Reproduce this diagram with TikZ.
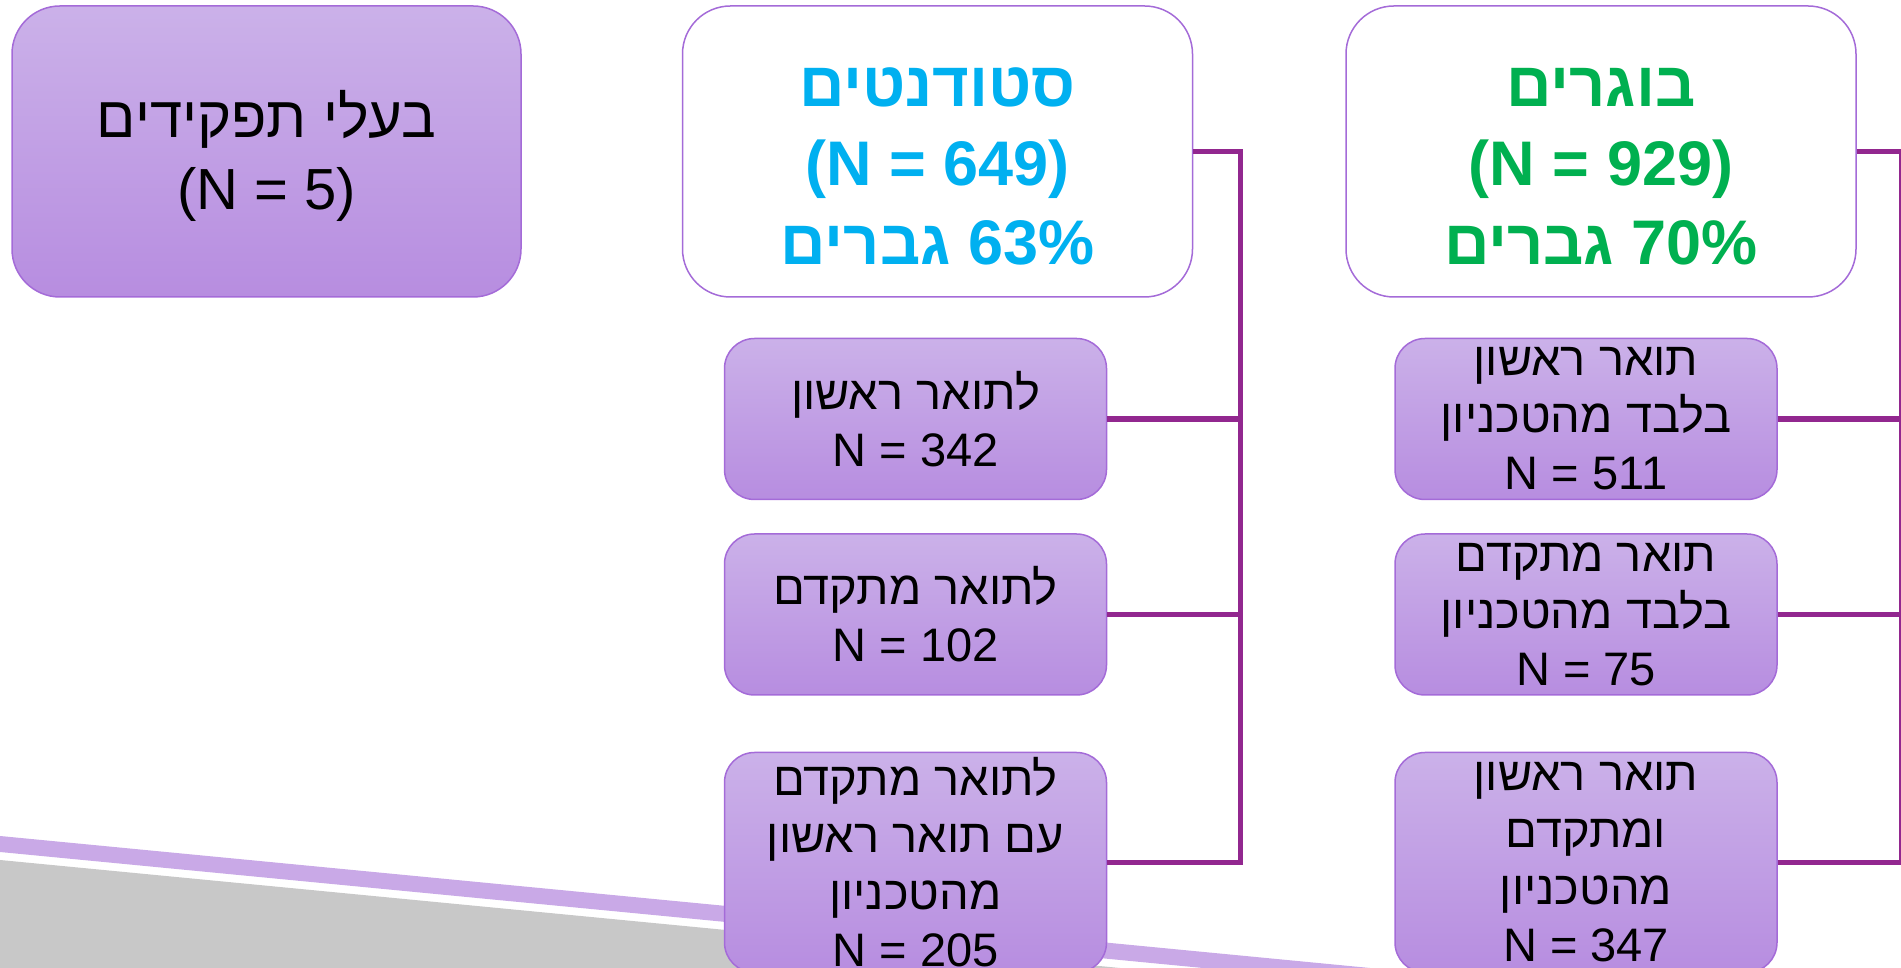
\documentclass[tikz,border=0pt]{standalone}
\usepackage{fontspec}
\setmainfont{Liberation Sans}
\newfontfamily\hebfont[Script=Hebrew]{Liberation Sans}
\TeXXeTstate=1
\usetikzlibrary{positioning}

\definecolor{boxtop}{HTML}{CBB1E9}
\definecolor{boxbot}{HTML}{B78DE0}
\definecolor{boxline}{HTML}{A46BD8}
\definecolor{linkcol}{HTML}{92278F}
\definecolor{stripecol}{HTML}{C9A9E7}
\definecolor{graycol}{HTML}{C8C8C8}
\definecolor{stucol}{HTML}{00B0F0}
\definecolor{gradcol}{HTML}{00B050}

\newcommand{\heb}[1]{{\hebfont\beginR #1\endR}}

\begin{document}
\begin{tikzpicture}[
    x = 1pt,
    y = 1pt,
    node distance = 40pt,
    ]

    \tikzstyle{purplebox}=[
    draw = boxline,
    line width = 1.5pt,
    top color = boxtop,
    bottom color = boxbot,
    align = center,
    inner sep = 0pt,
    ]

    \tikzstyle{headbox}=[
    draw = boxline,
    line width = 1.5pt,
    fill = white,
    align = center,
    inner sep = 0pt,
    rounded corners = 48pt,
    minimum width = 510pt,
    minimum height = 291pt,
    font = \fontsize{63}{79}\selectfont\bfseries,
    ]

    \tikzstyle{subbox}=[
    purplebox,
    rounded corners = 30pt,
    minimum width = 382pt,
    minimum height = 161pt,
    font = \fontsize{47}{57}\selectfont,
    ]

    \tikzstyle{conn}=[
    draw = linkcol,
    line width = 5.5pt,
    ]

    \useasboundingbox (0,0) rectangle (1901,968);

    % background of the slide
    \fill[graycol] (0,108) -- (1120,0) -- (0,0) -- cycle;
    \fill[stripecol] (0,132) -- (1370,0) -- (1203,0) -- (0,116) -- cycle;

    \node[purplebox, rounded corners=48pt, minimum width=509pt, minimum height=291pt,
      font=\fontsize{58}{72}\selectfont] (roles) at (266.5,816.5)
      {\rule{0pt}{57pt}\heb{בעלי תפקידים}\\(N = 5)};
    \node[headbox, text=stucol] (students) [right=160pt of roles]
      {\rule{0pt}{69pt}\heb{סטודנטים}\\(N = 649)\\\heb{63\% גברים}};
    \node[headbox, text=gradcol] (grads) [right=152pt of students]
      {\rule{0pt}{69pt}\heb{בוגרים}\\(N = 929)\\\heb{70\% גברים}};

    \node[subbox] (stu1) [below=40pt of students, xshift=-22pt]
      {\heb{לתואר ראשון}\\N = 342};
    \node[subbox] (stu2) [below=33pt of stu1]
      {\heb{לתואר מתקדם}\\N = 102};
    \node[subbox, minimum height=220pt] (stu3) [below=56pt of stu2]
      {\heb{לתואר מתקדם}\\\heb{עם תואר ראשון}\\\heb{מהטכניון}\\N = 205};

    \node[subbox] (grad1) [below=40pt of grads, xshift=-15pt]
      {\heb{תואר ראשון}\\\heb{בלבד מהטכניון}\\N = 511};
    \node[subbox] (grad2) [below=33pt of grad1]
      {\heb{תואר מתקדם}\\\heb{בלבד מהטכניון}\\N = 75};
    \node[subbox, minimum height=220pt] (grad3) [below=56pt of grad2]
      {\heb{תואר ראשון}\\\heb{ומתקדם}\\\heb{מהטכניון}\\N = 347};

    \coordinate[right=47pt of students.east] (stutrunk);
    \coordinate[right=45pt of grads.east] (gradtrunk);

    \draw[conn] (students.east) -| (stutrunk |- stu3.east) -- (stu3.east);
    \draw[conn] (stu1.east) -- (stu1.east -| stutrunk);
    \draw[conn] (stu2.east) -- (stu2.east -| stutrunk);

    \draw[conn] (grads.east) -| (gradtrunk |- grad3.east) -- (grad3.east);
    \draw[conn] (grad1.east) -- (grad1.east -| gradtrunk);
    \draw[conn] (grad2.east) -- (grad2.east -| gradtrunk);
  \end{tikzpicture}
\end{document}
